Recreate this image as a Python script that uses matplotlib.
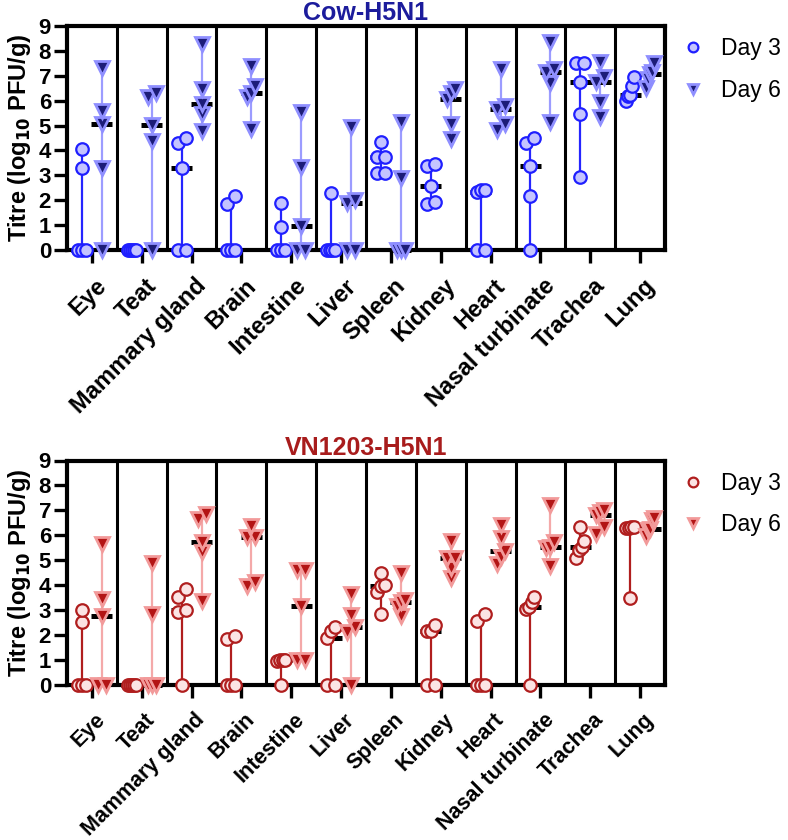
import numpy as np
import matplotlib
matplotlib.use('Agg')
import matplotlib.pyplot as plt
from matplotlib.lines import Line2D
import matplotlib.transforms as mtransforms

plt.rcParams['font.family'] = ['Liberation Sans', 'DejaVu Sans']

tissues = ['Eye', 'Teat', 'Mammary gland', 'Brain', 'Intestine', 'Liver',
           'Spleen', 'Kidney', 'Heart', 'Nasal turbinate', 'Trachea', 'Lung']

cow_day3 = [
    [0, 0, 0, 3.3, 4.05],
    [0, 0, 0, 0, 0],
    [0, 0, 3.31, 4.31, 4.49],
    [0, 0, 0, 1.83, 2.18],
    [0, 0, 0, 0.94, 1.87],
    [0, 0, 0, 0, 2.28],
    [3.08, 3.08, 3.75, 3.75, 4.33],
    [1.83, 1.94, 2.58, 3.38, 3.46],
    [0, 0, 2.35, 2.4, 2.42],
    [0, 2.17, 3.38, 4.29, 4.51],
    [2.95, 5.45, 6.76, 7.53, 7.53],
    [6.0, 6.19, 6.23, 6.59, 6.94],
]
cow_day6 = [
    [0, 3.3, 5.05, 5.6, 7.3],
    [0, 4.38, 5.02, 6.13, 6.3],
    [4.79, 5.45, 5.85, 6.47, 8.26],
    [4.86, 6.16, 6.32, 6.59, 7.4],
    [0, 0, 0.98, 3.32, 5.56],
    [0, 0, 1.9, 2.0, 4.96],
    [0, 0, 0, 2.88, 5.16],
    [4.47, 5.06, 6.05, 6.32, 6.47],
    [4.82, 5.05, 5.65, 5.8, 7.26],
    [5.16, 6.7, 7.14, 7.27, 8.34],
    [5.33, 5.93, 6.76, 6.96, 7.54],
    [6.5, 6.86, 7.06, 7.16, 7.5],
]
vn_day3 = [
    [0, 0, 0, 2.51, 3.02],
    [0, 0, 0, 0, 0],
    [0, 2.91, 3.02, 3.52, 3.85],
    [0, 0, 0, 1.85, 1.95],
    [0, 0.98, 1.0, 1.0, 1.02],
    [0, 0, 1.87, 2.18, 2.31],
    [2.85, 3.72, 3.98, 4.01, 4.49],
    [0, 0, 2.15, 2.18, 2.42],
    [0, 0, 0, 2.58, 2.85],
    [0, 3.05, 3.12, 3.32, 3.52],
    [5.09, 5.41, 5.55, 5.76, 6.32],
    [3.48, 6.3, 6.31, 6.33, 6.35],
]
vn_day6 = [
    [0, 0, 2.75, 3.45, 5.66],
    [0, 0, 0, 2.85, 4.89],
    [3.36, 5.35, 5.75, 6.66, 6.86],
    [3.98, 4.12, 5.92, 5.95, 6.39],
    [1.0, 1.0, 3.18, 4.63, 4.63],
    [0, 2.11, 2.31, 2.81, 3.65],
    [2.75, 3.18, 3.32, 3.42, 4.49],
    [4.29, 4.69, 5.09, 5.1, 5.79],
    [4.85, 5.15, 5.36, 5.9, 6.43],
    [4.79, 5.5, 5.52, 5.72, 7.22],
    [6.06, 6.35, 6.82, 6.93, 7.03],
    [5.99, 6.2, 6.25, 6.6, 6.68],
]
day_labels = ['Day 3', 'Day 6']
y_ticks = list(range(0, 10))

W, H = 788, 840
fig = plt.figure(figsize=(W / 100, H / 100), dpi=100)


def spread_offsets(vals, px_per_x, px_per_y, thr_px=9.0, half_px=4.0):
    vals = np.asarray(vals, float)
    order = np.argsort(vals)
    offs = np.zeros(len(vals))
    clusters = [[order[0]]]
    for a, b in zip(order[:-1], order[1:]):
        if (vals[b] - vals[a]) * px_per_y < thr_px:
            clusters[-1].append(b)
        else:
            clusters.append([b])
    for c in clusters:
        n = len(c)
        if n > 1:
            o = np.linspace(-half_px, half_px, n)
            for k, idx in enumerate(c):
                offs[idx] = o[k] / px_per_x
    return offs


def panel(rect, d3, d6, title, tcolor, sty3, sty6, xfs):
    ax = fig.add_axes(rect)
    n = len(tissues)
    ax.set_xlim(-0.5, n - 0.5)
    ax.set_ylim(0, 9)
    px_per_x = rect[2] * W / n
    px_per_y = rect[3] * H / 9
    for k in range(n - 1):
        ax.axvline(k + 0.5, color='black', lw=2.2, zorder=1)
    for i in range(n):
        for vals, dx, sty in ((d3[i], -0.2, sty3), (d6[i], 0.2, sty6)):
            x = i + dx
            v = np.asarray(vals, float)
            ax.plot([x, x], [v.min(), v.max()], color=sty['line'], lw=1.6,
                    zorder=2, clip_on=False, solid_capstyle='butt')
            med = np.median(v)
            ax.plot([x - 0.21, x + 0.21], [med, med], color='black', lw=3.6,
                    zorder=3, clip_on=False, solid_capstyle='butt')
            offs = spread_offsets(v, px_per_x, px_per_y)
            ax.plot(x + offs, v, ls='none', marker=sty['marker'],
                    ms=sty['ms'], mfc=sty['face'], mec=sty['edge'],
                    mew=sty['mew'], zorder=4, clip_on=False)
    for s in ax.spines.values():
        s.set_linewidth(3)
    ax.set_yticks(y_ticks)
    ax.set_yticklabels([str(t) for t in y_ticks], fontsize=16, fontweight='bold')
    ax.tick_params(axis='y', direction='out', length=9.5, width=2.4, pad=2)
    ax.set_xticks(range(n))
    ax.set_xticklabels(tissues, fontsize=xfs, fontweight='bold', rotation=45,
                       ha='right', va='top', rotation_mode='anchor')
    ax.tick_params(axis='x', direction='out', length=9, width=2.4, pad=4)
    off = mtransforms.ScaledTranslation(3 / 100, -6 / 100, fig.dpi_scale_trans)
    for lab in ax.get_xticklabels():
        lab.set_transform(lab.get_transform() + off)
    ax.set_ylabel('Titre (log$_{\\mathbf{10}}$ PFU/g)', fontsize=17,
                  fontweight='bold', labelpad=4)
    ax.set_title(title, fontsize=18, fontweight='bold', color=tcolor, pad=4)
    handles = [
        Line2D([], [], ls='none', marker=sty3['marker'], ms=7, mfc=sty3['face'],
               mec=sty3['edge'], mew=sty3['mew']),
        Line2D([], [], ls='none', marker=sty6['marker'], ms=7.5, mfc=sty6['face'],
               mec=sty6['edge'], mew=sty6['mew']),
    ]
    ax.legend(handles, day_labels, loc='upper left', bbox_to_anchor=(1.012, 0.99),
              frameon=False, fontsize=16.5, handlelength=1.0, handletextpad=0.75,
              labelspacing=0.8, borderaxespad=0)
    return ax


cow3 = dict(marker='o', ms=9, face='#c4c4ff', edge='#1f1fff', mew=1.6, line='#2525ff')
cow6 = dict(marker='v', ms=9.5, face='#1c1c78', edge='#8f8fff', mew=2.0, line='#9c9cff')
vn3 = dict(marker='o', ms=9, face='#fbe4e4', edge='#b01e1e', mew=1.6, line='#b01e1e')
vn6 = dict(marker='v', ms=9.5, face='#b31515', edge='#f29a9a', mew=2.0, line='#f4a9a9')

left = 67 / W
width = 598 / W
panel([left, 1 - 250 / H, width, 224 / H], cow_day3, cow_day6, 'Cow-H5N1', '#1c1c9c', cow3, cow6, 17)
panel([left, 1 - 685 / H, width, 224.5 / H], vn_day3, vn_day6, 'VN1203-H5N1', '#a81c1c', vn3, vn6, 15.5)

fig.savefig('out.png', dpi=100)
